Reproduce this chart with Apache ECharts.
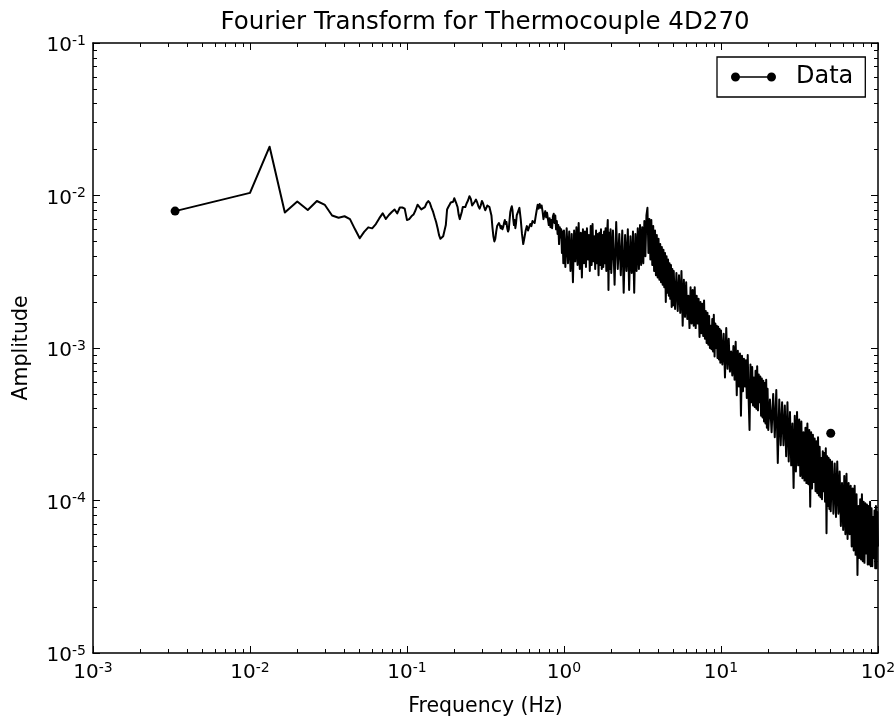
<!DOCTYPE html>
<html><head><meta charset="utf-8">
<script src="https://cdn.jsdelivr.net/npm/echarts@6/dist/echarts.min.js"></script>
<style>html,body{margin:0;padding:0;background:#fff}#chart{width:895px;height:717px}</style>
</head><body><div id="chart"></div>
<script>
const titleText = 'Fourier Transform for Thermocouple 4D270';
const xTitle = 'Frequency (Hz)';
const yTitle = 'Amplitude';
const seriesName = 'Data';
const xMajorTicks = [1e-3, 1e-2, 1e-1, 1, 10, 100];
const yMajorTicks = [1e-5, 1e-4, 1e-3, 1e-2, 1e-1];
const minorMultipliers = [2, 3, 4, 5, 6, 7, 8, 9];

// [frequency Hz, amplitude]
const spectrumLow = [[0.003333,7.9e-3],[0.006667,9.4e-3],[0.01,1.04e-2],[0.01333,2.09e-2],[0.01667,7.74e-3],[0.02,9.14e-3],[0.02333,8.04e-3],[0.02667,9.2e-3],[0.03,8.67e-3],[0.03333,7.4e-3],[0.03667,7.15e-3],[0.04,7.31e-3],[0.04333,7.0e-3],[0.04667,6.0e-3],[0.05,5.24e-3],[0.05333,5.77e-3],[0.05667,6.18e-3],[0.06,6.09e-3],[0.06333,6.5e-3],[0.06667,7.1e-3],[0.07,7.64e-3],[0.07333,7.02e-3],[0.07667,7.45e-3],[0.08,7.8e-3],[0.08333,8.1e-3],[0.08667,7.64e-3],[0.09,8.34e-3],[0.09333,8.34e-3],[0.09667,8.2e-3],[0.1,6.9e-3],[0.1033,7.0e-3],[0.1067,7.3e-3],[0.11,7.5e-3],[0.1133,8.0e-3],[0.1167,8.7e-3],[0.12,8.5e-3],[0.1233,8.1e-3],[0.1267,8.3e-3],[0.13,8.4e-3],[0.1333,8.9e-3],[0.1367,9.2e-3],[0.14,8.9e-3],[0.1433,8.3e-3],[0.1467,7.8e-3],[0.15,7.2e-3],[0.1533,6.7e-3],[0.1567,6.1e-3],[0.16,5.5e-3],[0.1633,5.2e-3],[0.1667,5.1e-3],[0.17,5.4e-3],[0.1733,5.4e-3],[0.1767,6.4e-3],[0.18,8.1e-3],[0.1833,8.4e-3],[0.1867,8.7e-3],[0.19,9.0e-3],[0.1933,9.2e-3],[0.1967,9.1e-3],[0.2,9.6e-3],[0.2033,9.5e-3],[0.2067,8.8e-3],[0.21,8.4e-3],[0.2133,7.5e-3],[0.2167,7.0e-3],[0.22,6.8e-3],[0.2233,7.8e-3],[0.2267,8.4e-3],[0.23,8.5e-3]];

const spectrumMid = [[0.235,8.4e-3],[0.24,8.9e-3],[0.245,9.3e-3],[0.25,9.9e-3],[0.255,9.5e-3],[0.26,8.6e-3],[0.265,8.8e-3],[0.27,9.1e-3],[0.275,9.4e-3],[0.28,9.0e-3],[0.285,8.5e-3],[0.29,8.2e-3],[0.295,8.6e-3],[0.3,9.2e-3],[0.305,8.9e-3],[0.31,8.4e-3],[0.315,8.0e-3],[0.32,8.3e-3],[0.325,8.6e-3],[0.33,8.5e-3],[0.335,8.4e-3],[0.34,8.2e-3],[0.345,7.4e-3],[0.35,6.2e-3],[0.355,5.4e-3],[0.36,5.0e-3],[0.365,5.2e-3],[0.37,5.8e-3],[0.375,6.3e-3],[0.38,6.4e-3],[0.385,6.6e-3],[0.39,6.4e-3],[0.395,6.1e-3],[0.4,6.3e-3],[0.405,6.0e-3],[0.41,6.2e-3],[0.415,6.6e-3],[0.42,6.9e-3],[0.425,6.5e-3],[0.43,6.7e-3],[0.435,6.1e-3],[0.44,5.8e-3],[0.445,6.0e-3],[0.45,6.9e-3],[0.455,7.8e-3],[0.46,8.2e-3],[0.465,8.5e-3],[0.47,8.0e-3],[0.475,7.0e-3],[0.48,6.4e-3],[0.485,6.9e-3],[0.49,6.1e-3],[0.495,6.6e-3],[0.5,7.4e-3],
[0.51,7.6e-3],[0.52,8.3e-3],[0.53,7.0e-3],[0.54,5.6e-3],[0.55,4.8e-3],[0.56,5.3e-3],[0.57,5.9e-3],[0.58,6.3e-3],[0.59,5.9e-3],[0.6,6.2e-3],[0.61,6.5e-3],[0.62,6.3e-3],[0.63,6.8e-3],[0.64,7.0e-3],[0.65,6.6e-3],[0.66,7.3e-3],[0.67,8.0e-3],[0.68,8.7e-3],[0.69,8.2e-3],[0.7,8.8e-3],[0.71,8.3e-3],[0.72,8.6e-3],[0.73,7.9e-3],[0.74,7.0e-3],[0.75,7.5e-3],[0.76,7.9e-3],[0.77,7.2e-3],[0.78,7.7e-3],[0.79,7.0e-3],[0.8,6.4e-3],[0.81,7.1e-3],[0.82,6.2e-3],[0.83,6.9e-3],[0.84,6.1e-3],[0.85,7.3e-3],[0.86,7.6e-3],[0.87,6.6e-3],[0.88,7.4e-3],[0.89,6.0e-3],[0.9,6.8e-3],[0.91,5.6e-3],[0.92,6.4e-3],[0.93,4.8e-3],[0.94,6.2e-3],[0.95,5.3e-3],[0.96,6.0e-3],[0.97,4.2e-3],[0.98,5.8e-3],[0.99,3.6e-3],[1.0,5.9e-3]];

const spectrumPlateau = [[1.02,3.4e-3],[1.04,6.1e-3],[1.06,3.6e-3],[1.08,5.8e-3],[1.1,3.2e-3],[1.12,5.6e-3],[1.14,2.7e-3],[1.16,5.9e-3],[1.18,3.7e-3],[1.2,6.2e-3],[1.22,3.5e-3],[1.24,6.6e-3],[1.26,3.3e-3],[1.28,5.7e-3],[1.3,2.9e-3],[1.32,6.0e-3],[1.34,3.6e-3],[1.36,5.8e-3],[1.38,3.4e-3],[1.4,6.1e-3],[1.42,3.8e-3],[1.44,5.5e-3],[1.46,3.2e-3],[1.48,6.3e-3],[1.5,3.5e-3],[1.52,6.5e-3],[1.54,3.7e-3],[1.56,5.4e-3],[1.58,3.3e-3],[1.6,5.9e-3],[1.62,3.6e-3],[1.64,5.6e-3],[1.66,3.0e-3],[1.68,5.7e-3],[1.7,3.5e-3],[1.72,6.0e-3],[1.74,3.3e-3],[1.76,5.5e-3],[1.78,3.4e-3],[1.8,5.8e-3],[1.82,3.6e-3],[1.84,6.1e-3],[1.86,3.2e-3],[1.88,5.6e-3],[1.9,6.9e-3],[1.92,2.4e-3],[1.94,5.7e-3],[1.96,3.3e-3],[1.98,6.0e-3],[2.0,3.1e-3],
[2.05,5.9e-3],[2.1,2.6e-3],[2.15,6.7e-3],[2.2,3.3e-3],[2.25,5.6e-3],[2.3,3.0e-3],[2.35,5.9e-3],[2.4,2.3e-3],[2.45,5.5e-3],[2.5,3.2e-3],[2.55,6.0e-3],[2.6,2.4e-3],[2.65,5.4e-3],[2.7,3.1e-3],[2.75,5.8e-3],[2.8,2.3e-3],[2.85,5.6e-3],[2.9,3.2e-3],[2.95,6.1e-3],[3.0,3.3e-3],[3.05,6.4e-3],[3.1,3.5e-3],[3.15,6.2e-3],[3.2,3.6e-3],[3.25,6.8e-3],[3.3,4.0e-3],[3.35,7.4e-3],[3.4,8.3e-3],[3.45,4.2e-3],[3.5,7.0e-3],[3.55,3.8e-3],[3.6,6.9e-3],[3.65,3.5e-3],[3.7,6.3e-3],[3.75,3.2e-3],[3.8,5.9e-3],[3.85,3.0e-3],[3.9,5.5e-3],[3.95,2.9e-3],[4.0,5.2e-3],[4.05,2.8e-3],[4.1,4.8e-3],[4.15,2.7e-3],[4.2,4.6e-3],[4.25,2.6e-3],[4.3,4.4e-3],[4.35,2.5e-3],[4.4,4.2e-3],[4.45,2.0e-3],[4.5,4.0e-3],[4.55,2.3e-3],[4.6,3.8e-3],[4.65,2.2e-3],[4.7,3.6e-3],[4.75,2.1e-3],[4.8,3.5e-3],[4.85,1.86e-3],[4.9,3.3e-3],[4.95,1.9e-3],[5.0,3.2e-3]];

const spectrumRolloff = [[5.1,1.8e-3],[5.2,3.1e-3],[5.3,1.75e-3],[5.4,3.0e-3],[5.5,1.7e-3],[5.6,3.2e-3],[5.7,1.4e-3],[5.8,2.8e-3],[5.9,1.6e-3],[6.0,2.7e-3],[6.1,1.55e-3],[6.2,2.2e-3],[6.3,1.35e-3],[6.4,2.5e-3],[6.5,1.45e-3],[6.6,2.4e-3],[6.7,1.4e-3],[6.8,2.5e-3],[6.9,1.35e-3],[7.0,2.2e-3],[7.1,1.45e-3],[7.2,2.1e-3],[7.3,1.18e-3],[7.4,2.0e-3],[7.5,1.25e-3],[7.6,1.95e-3],[7.7,1.2e-3],[7.8,2.05e-3],[7.9,1.15e-3],[8.0,1.75e-3],[8.1,1.08e-3],[8.2,1.7e-3],[8.3,1.05e-3],[8.4,1.62e-3],[8.5,1.0e-3],[8.6,1.4e-3],[8.7,9.8e-4],[8.8,1.55e-3],[8.9,9.5e-4],[9.0,1.65e-3],[9.1,8.8e-4],[9.2,1.45e-3],[9.3,1.0e-3],[9.4,1.4e-3],[9.5,8.6e-4],[9.6,1.38e-3],[9.7,8.4e-4],[9.8,1.33e-3],[9.9,8.0e-4],[10.0,1.3e-3],
[10.2,7.8e-4],[10.4,1.24e-3],[10.6,6.4e-4],[10.8,1.35e-3],[11.0,7.3e-4],[11.2,1.15e-3],[11.4,7.0e-4],[11.6,9.5e-4],[11.8,6.6e-4],[12.0,1.03e-3],[12.2,6.2e-4],[12.4,1.1e-3],[12.6,4.9e-4],[12.8,9.6e-4],[13.0,5.6e-4],[13.2,9.2e-4],[13.4,3.6e-4],[13.6,8.9e-4],[13.8,5.2e-4],[14.0,8.5e-4],[14.2,5.6e-4],[14.4,8.3e-4],[14.6,4.7e-4],[14.8,9.0e-4],[15.0,4.6e-4],[15.2,2.9e-4],[15.4,7.8e-4],[15.6,4.4e-4],[15.8,7.5e-4],[16.0,4.2e-4],[16.2,6.4e-4],[16.4,4.1e-4],[16.6,7.1e-4],[16.8,4.0e-4],[17.0,7.6e-4],[17.2,3.9e-4],[17.4,6.7e-4],[17.6,4.4e-4],[17.8,6.5e-4],[18.0,3.6e-4],[18.2,6.3e-4],[18.4,3.5e-4],[18.6,6.1e-4],[18.8,3.3e-4],[19.0,5.9e-4],[19.2,3.2e-4],[19.4,6.2e-4],[19.6,3.0e-4],[19.8,5.4e-4],[20.0,2.9e-4]];

const spectrumHigh = [[20.5,4.6e-4],[21.0,2.8e-4],[21.5,5.0e-4],[22.0,2.6e-4],[22.5,5.3e-4],[23.0,1.76e-4],[23.5,4.6e-4],[24.0,2.3e-4],[24.5,4.4e-4],[25.0,2.3e-4],[25.5,4.2e-4],[26.0,1.95e-4],[26.5,4.4e-4],[27.0,1.8e-4],[27.5,3.8e-4],[28.0,1.7e-4],[28.5,3.2e-4],[29.0,1.21e-4],[29.5,3.6e-4],[30.0,1.55e-4],[30.5,3.8e-4],[31.0,1.7e-4],[31.5,3.4e-4],[32.0,1.45e-4],[32.5,3.3e-4],[33.0,1.4e-4],[33.5,2.8e-4],[34.0,1.35e-4],[34.5,3.0e-4],[35.0,1.3e-4],[35.5,3.2e-4],[36.0,1.28e-4],[36.5,2.9e-4],[37.0,9.1e-5],[37.5,2.8e-4],[38.0,1.2e-4],[38.5,2.7e-4],[39.0,1.32e-4],[39.5,2.55e-4],[40.0,1.15e-4],[40.5,2.45e-4],[41.0,1.12e-4],[41.5,2.6e-4],[42.0,1.08e-4],[42.5,2.25e-4],[43.0,1.05e-4],[43.5,1.9e-4],[44.0,1.02e-4],[44.5,2.1e-4],[45.0,1.15e-4],[45.5,2.05e-4],[46.0,9.8e-5],[46.5,2.2e-4],[47.0,6.1e-5],[47.5,1.95e-4],[48.0,9.2e-5],[48.5,1.9e-4],[49.0,8.8e-5],[49.5,1.85e-4],[50.0,8.5e-5],
[51,1.8e-4],[52,8.2e-5],[53,1.75e-4],[54,7.8e-5],[55,1.8e-4],[56,8.2e-5],[57,1.55e-4],[58,6.8e-5],[59,1.3e-4],[60,6.4e-5],[61,1.45e-4],[62,6.0e-5],[63,1.5e-4],[64,5.6e-5],[65,1.3e-4],[66,6.0e-5],[67,1.25e-4],[68,5.0e-5],[69,1.2e-4],[70,4.7e-5],[71,1.25e-4],[72,4.4e-5],[73,1.1e-4],[74,3.25e-5],[75,9.2e-5],[76,4.2e-5],[77,1.02e-4],[78,4.1e-5],[79,1.1e-4],[80,4.0e-5],[81,9.8e-5],[82,3.9e-5],[83,9.6e-5],[84,4.5e-5],[85,9.4e-5],[86,3.8e-5],[87,9.2e-5],[88,3.8e-5],[89,9.8e-5],[90,3.7e-5],[91,8.9e-5],[92,3.7e-5],[93,7.8e-5],[94,4.2e-5],[95,8.6e-5],[96,3.6e-5],[97,9.2e-5],[98,3.6e-5],[99,8.4e-5],[100,5.0e-5]];

const markedPoints = [[0.003333,7.9e-3],[50,2.76e-4]];

const FONT = 'DejaVu Sans';
function minorValues(majors) {
  const out = [];
  for (let i = 0; i < majors.length - 1; i++) {
    for (const m of minorMultipliers) out.push(majors[i] * m);
  }
  return out;
}
const xMinor = minorValues(xMajorTicks);
const yMinor = minorValues(yMajorTicks);

const labelRich = {
  b: { fontSize: 20, fontFamily: FONT, color: '#000', lineHeight: 24 },
  s: { fontSize: 14, fontFamily: FONT, color: '#000', lineHeight: 10, verticalAlign: 'top' }
};
function expLabel(v) {
  const e = Math.round(Math.log10(v));
  return '{b|10}{s|' + e + '}';
}

function makeAxis(dir, position, majors, minors, isMinor, withLabels) {
  const a = {
    type: 'log', logBase: 10,
    min: dir === 'x' ? 1e-3 : 1e-5,
    max: dir === 'x' ? 100 : 0.1,
    position: position,
    axisLine: { show: !isMinor, onZero: false, lineStyle: { color: '#000', width: 1.5 } },
    axisTick: { show: true, inside: true, length: isMinor ? 4 : 7, customValues: isMinor ? minors : majors,
      lineStyle: { color: '#000', width: 1 } },
    axisLabel: { show: false },
    splitLine: { show: false },
    minorTick: { show: false },
    axisPointer: { show: false },
    silent: true
  };
  if (withLabels) {
    a.axisLabel = {
      show: true, customValues: majors, formatter: expLabel, rich: labelRich,
      margin: dir === 'x' ? 2 : 7, padding: [6, 0, 0, 0]
    };
  }
  return a;
}

const xAxes = [
  makeAxis('x', 'bottom', xMajorTicks, xMinor, false, true),
  makeAxis('x', 'top', xMajorTicks, xMinor, false, false),
  makeAxis('x', 'bottom', xMajorTicks, xMinor, true, false),
  makeAxis('x', 'top', xMajorTicks, xMinor, true, false)
];
Object.assign(xAxes[0], {
  name: xTitle, nameLocation: 'middle', nameGap: 43,
  nameTextStyle: { fontSize: 20.5, fontFamily: FONT, color: '#000' }
});
const yAxes = [
  makeAxis('y', 'left', yMajorTicks, yMinor, false, true),
  makeAxis('y', 'right', yMajorTicks, yMinor, false, false),
  makeAxis('y', 'left', yMajorTicks, yMinor, true, false),
  makeAxis('y', 'right', yMajorTicks, yMinor, true, false)
];
Object.assign(yAxes[0], {
  name: yTitle, nameLocation: 'middle', nameGap: 61, nameRotate: 90,
  nameTextStyle: { fontSize: 20.5, fontFamily: FONT, color: '#000' }
});

const legendIcon = 'path://M0,4.5A4.5,4.5,0,1,1,9,4.5A4.5,4.5,0,1,1,0,4.5Z M36,4.5A4.5,4.5,0,1,1,45,4.5A4.5,4.5,0,1,1,36,4.5Z M4.5,3.75L40.5,3.75L40.5,5.25L4.5,5.25Z';

const chart = echarts.init(document.getElementById('chart'), null, { renderer: 'canvas' });
chart.setOption({
  animation: false,
  backgroundColor: '#fff',
  title: {
    text: titleText, left: 485, top: 10, textAlign: 'center', padding: 0,
    textStyle: { fontSize: 24.5, fontWeight: 'normal', fontFamily: FONT, color: '#000' }
  },
  grid: { left: 93, top: 43, right: 17, bottom: 64, containLabel: false, outerBoundsMode: 'none' },
  legend: {
    left: 717, top: 57, orient: 'horizontal',
    padding: [8, 12, 8, 14],
    borderColor: '#000', borderWidth: 1.3, borderRadius: 0, backgroundColor: '#fff',
    itemWidth: 45, itemHeight: 9,
    data: [{ name: seriesName, icon: legendIcon }],
    textStyle: { fontSize: 24, fontFamily: FONT, color: '#000', padding: [0, 0, 0, 15] },
    selectedMode: false
  },
  xAxis: xAxes,
  yAxis: yAxes,
  series: [
    {
      name: seriesName, type: 'line', xAxisIndex: 0, yAxisIndex: 0,
      data: spectrumLow.concat(spectrumMid, spectrumPlateau, spectrumRolloff, spectrumHigh),
      showSymbol: false, symbol: 'none',
      lineStyle: { color: '#000', width: 2, join: 'round' },
      itemStyle: { color: '#000' },
      clip: true, z: 3
    },
    {
      name: seriesName, type: 'scatter', xAxisIndex: 0, yAxisIndex: 0,
      data: markedPoints, symbol: 'circle', symbolSize: 9,
      itemStyle: { color: '#000', opacity: 1 }, z: 4
    }
  ]
});
</script></body></html>
